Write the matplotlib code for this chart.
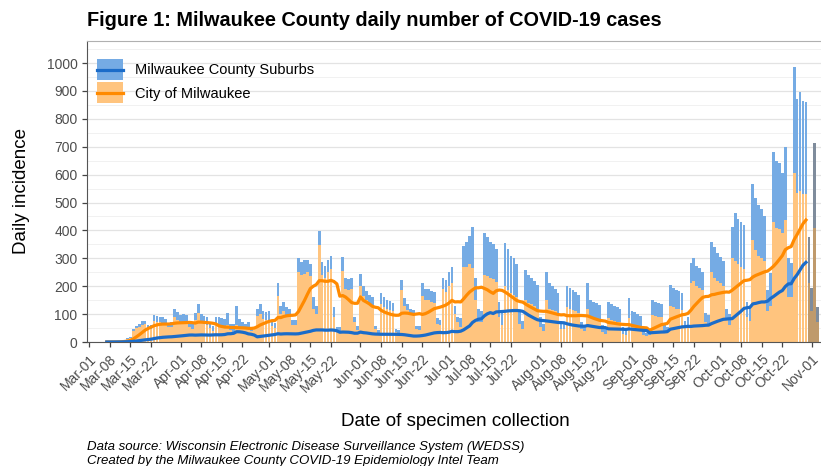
import pandas as pd
import matplotlib
matplotlib.use("Agg")
import matplotlib.pyplot as plt
from matplotlib.patches import Rectangle
from matplotlib.lines import Line2D
import matplotlib.dates as mdates

plt.rcParams['font.family'] = ['Liberation Sans', 'DejaVu Sans']

# ----------------------------
# Data: daily cases by specimen date, 2020-03-01 .. 2020-11-03
# ----------------------------
start_date = "2020-03-01"

city = [
    0, 0, 0, 0, 0, 0, 0,              # Mar 1-7
    0, 0, 1, 2, 4, 6, 10,             # Mar 8-14
    15, 40, 50, 55, 62, 65, 52,       # Mar 15-21
    48, 75, 72, 70, 68, 66, 52,       # Mar 22-28
    55, 88, 80, 72, 72, 70, 55,       # Mar 29-Apr 4
    48, 78, 104, 72, 66, 62, 50,      # Apr 5-11
    38, 60, 58, 55, 52, 60, 42,       # Apr 12-18
    36, 60, 55, 50, 48, 52, 40,       # Apr 19-25
    45, 92, 100, 82, 78, 80, 58,      # Apr 26-May 2
    50, 165, 100, 110, 95, 90, 60,    # May 3-9
    60, 250, 240, 245, 250, 235, 120, # May 10-16
    100, 348, 240, 230, 250, 260, 90, # May 17-23
    40, 40, 255, 190, 185, 190, 70,   # May 24-30
    42, 200, 165, 150, 140, 130, 45,  # May 31-Jun 6
    30, 135, 125, 120, 115, 110, 35,  # Jun 7-13
    32, 185, 130, 115, 100, 95, 45,   # Jun 14-20
    42, 165, 150, 150, 145, 140, 65,  # Jun 21-27
    60, 190, 180, 200, 210, 100, 70,  # Jun 28-Jul 4
    55, 270, 270, 280, 265, 150, 70,  # Jul 5-11
    70, 240, 235, 230, 225, 215, 90,  # Jul 12-18
    60, 200, 185, 175, 170, 160, 65,  # Jul 19-25
    45, 150, 140, 135, 130, 120, 55,  # Jul 26-Aug 1
    40, 150, 120, 115, 110, 100, 45,  # Aug 2-8
    45, 125, 120, 115, 110, 105, 45,  # Aug 9-15
    40, 120, 90, 85, 85, 80, 35,      # Aug 16-22
    30, 85, 80, 75, 72, 70, 30,       # Aug 23-29
    25, 85, 60, 58, 55, 52, 25,       # Aug 30-Sep 5
    20, 25, 95, 92, 90, 88, 40,       # Sep 6-12
    35, 130, 125, 120, 118, 115, 50,  # Sep 13-19
    60, 210, 220, 200, 195, 185, 70,  # Sep 20-26
    65, 250, 230, 220, 210, 200, 80,  # Sep 27-Oct 3
    60, 300, 290, 280, 270, 260, 90,  # Oct 4-10
    75, 366, 330, 310, 300, 290, 110, # Oct 11-17
    130, 431, 410, 405, 391, 439, 160,  # Oct 18-24
    160, 605, 535, 540, 530, 530, 210,  # Oct 25-31
    110, 408, 70,                       # Nov 1-3
]

suburbs = [
    0, 0, 0, 0, 0, 0, 0,              # Mar 1-7
    0, 0, 0, 1, 1, 2, 3,              # Mar 8-14
    3, 6, 8, 10, 12, 12, 10,          # Mar 15-21
    12, 22, 22, 20, 20, 18, 14,       # Mar 22-28
    15, 30, 28, 26, 28, 26, 22,       # Mar 29-Apr 4
    16, 26, 32, 28, 26, 26, 20,       # Apr 5-11
    20, 30, 30, 30, 32, 44, 22,       # Apr 12-18
    30, 70, 28, 20, 16, 18, 12,       # Apr 19-25
    10, 26, 38, 28, 28, 30, 20,       # Apr 26-May 2
    18, 46, 30, 33, 30, 28, 18,       # May 3-9
    18, 50, 45, 48, 45, 45, 40,       # May 10-16
    30, 50, 45, 42, 45, 50, 35,       # May 17-23
    14, 14, 50, 40, 42, 40, 20,       # May 24-30
    15, 42, 35, 33, 30, 30, 14,       # May 31-Jun 6
    12, 40, 35, 32, 32, 30, 12,       # Jun 7-13
    10, 37, 28, 22, 20, 20, 12,       # Jun 14-20
    14, 46, 40, 40, 38, 38, 20,       # Jun 21-27
    18, 40, 42, 50, 60, 30, 20,       # Jun 28-Jul 4
    30, 75, 90, 100, 147, 80, 50,     # Jul 5-11
    40, 150, 140, 130, 125, 120, 55,  # Jul 12-18
    45, 155, 150, 135, 130, 120, 50,  # Jul 19-25
    30, 108, 100, 95, 90, 85, 35,     # Jul 26-Aug 1
    25, 100, 90, 85, 80, 75, 30,      # Aug 2-8
    22, 75, 72, 70, 68, 65, 25,       # Aug 9-15
    22, 91, 60, 58, 55, 52, 25,       # Aug 16-22
    20, 60, 58, 55, 52, 50, 25,       # Aug 23-29
    15, 73, 50, 48, 45, 42, 18,       # Aug 30-Sep 5
    12, 15, 55, 52, 50, 48, 20,       # Sep 6-12
    20, 75, 70, 68, 65, 62, 25,       # Sep 13-19
    28, 72, 80, 72, 70, 65, 33,       # Sep 20-26
    32, 110, 110, 100, 95, 90, 38,    # Sep 27-Oct 3
    40, 113, 172, 160, 160, 160, 55,  # Oct 4-10
    50, 200, 185, 180, 175, 160, 75,  # Oct 11-17
    117, 250, 240, 235, 215, 260, 140,  # Oct 18-24
    123, 380, 335, 355, 335, 330, 166,  # Oct 25-31
    84, 305, 55,                        # Nov 1-3
]

n_incomplete = 4          # last days with incomplete reporting (greyed)
series_labels = ["Milwaukee County Suburbs", "City of Milwaukee"]
yticks = list(range(0, 1001, 100))

# ----------------------------
# Prep
# ----------------------------
dates = pd.date_range(start_date, periods=len(city), freq="D")
df = pd.DataFrame({"city": city, "suburbs": suburbs}, index=dates)
avg = df.rolling(7).mean().iloc[:-n_incomplete]

tick_dates = [pd.Timestamp(2020, m, d) for m in range(3, 12) for d in (1, 8, 15, 22)]
tick_dates = [t for t in tick_dates if t <= pd.Timestamp(2020, 11, 1)]

blue_bar, orange_bar = "#75abe4", "#ffc47e"
blue_grey, orange_grey = "#7f8c9c", "#bf9a6c"
blue_line, orange_line = "#1b6cc9", "#ff8a00"


# legend key: filled box with the average line across the middle
class LegendKey:
    def __init__(self, face, line):
        self.face = face
        self.line = line


class BarLineHandler:
    def legend_artist(self, legend, orig_handle, fontsize, handlebox):
        x0, y0 = -handlebox.xdescent, -handlebox.ydescent
        w, h = handlebox.width, handlebox.height
        tr = handlebox.get_transform()
        rect = Rectangle((x0, y0), w, h, facecolor=orig_handle.face,
                         edgecolor="none", transform=tr)
        ln = Line2D([x0, x0 + w], [y0 + h / 2] * 2, color=orig_handle.line,
                    lw=2.3, transform=tr)
        handlebox.add_artist(rect)
        handlebox.add_artist(ln)
        return rect


# ----------------------------
# Plot
# ----------------------------
fig = plt.figure(figsize=(8.21, 4.66), dpi=100)
ax = fig.add_axes([87.3 / 821, 1 - 342 / 466, (821 - 87.3) / 821, (342 - 41) / 466])

full = df.iloc[:-n_incomplete]
part = df.iloc[-n_incomplete:]
ax.bar(full.index, full["city"], width=0.92, color=orange_bar, linewidth=0, zorder=2)
ax.bar(full.index, full["suburbs"], bottom=full["city"], width=0.92,
       color=blue_bar, linewidth=0, zorder=2)
ax.bar(part.index, part["city"], width=0.92, color=orange_grey, linewidth=0, zorder=2)
ax.bar(part.index, part["suburbs"], bottom=part["city"], width=0.92,
       color=blue_grey, linewidth=0, zorder=2)

ax.plot(avg.index, avg["city"], color=orange_line, lw=2.3, zorder=3)
ax.plot(avg.index, avg["suburbs"], color=blue_line, lw=2.3, zorder=4)

ax.set_ylim(0, 1079)
ax.set_xlim(dates[0] - pd.Timedelta(days=0.6), dates[0] + pd.Timedelta(days=248.1))
ax.set_yticks(yticks)
ax.set_yticks(range(50, 1051, 100), minor=True)
ax.grid(axis="y", which="major", color="#e3e3e3", lw=0.9, zorder=0)
ax.grid(axis="y", which="minor", color="#efefef", lw=0.6, zorder=0)
ax.set_axisbelow(True)

ax.set_xticks(tick_dates)
ax.xaxis.set_major_formatter(mdates.DateFormatter("%b-%d"))
plt.setp(ax.get_xticklabels(), rotation=45, ha="right", rotation_mode="anchor")
ax.tick_params(axis="both", colors="#444444", labelcolor="#4d4d4d",
               labelsize=10, length=3.5, width=0.9)
ax.tick_params(axis="y", which="minor", length=0)

for side in ("left", "bottom"):
    ax.spines[side].set_color("#555555")
ax.spines["top"].set_color("#b0b0b0")
ax.spines["right"].set_visible(False)

ax.set_ylabel("Daily incidence", fontsize=13.5, labelpad=12)
fig.text(455 / 821, 1 - 421 / 466, "Date of specimen collection",
         fontsize=13.5, ha="center", va="center")

fig.text(87 / 821, 1 - 20 / 466,
         "Figure 1: Milwaukee County daily number of COVID-19 cases",
         fontsize=14.3, fontweight="bold", va="center")
fig.text(87 / 821, 1 - 447 / 466,
         "Data source: Wisconsin Electronic Disease Surveillance System (WEDSS)",
         fontsize=9.5, style="italic", va="center")
fig.text(87 / 821, 1 - 461 / 466,
         "Created by the Milwaukee County COVID-19 Epidemiology Intel Team",
         fontsize=9.5, style="italic", va="center")

handles = [LegendKey(blue_bar, blue_line), LegendKey(orange_bar, orange_line)]
ax.legend(handles, series_labels, handler_map={LegendKey: BarLineHandler()},
          loc="upper left", bbox_to_anchor=(0.0132, 0.94), frameon=False,
          borderpad=0, borderaxespad=0, fontsize=10.5, handlelength=1.8,
          handleheight=1.85, labelspacing=0.15, handletextpad=0.8)

fig.savefig("out.png", dpi=100)
